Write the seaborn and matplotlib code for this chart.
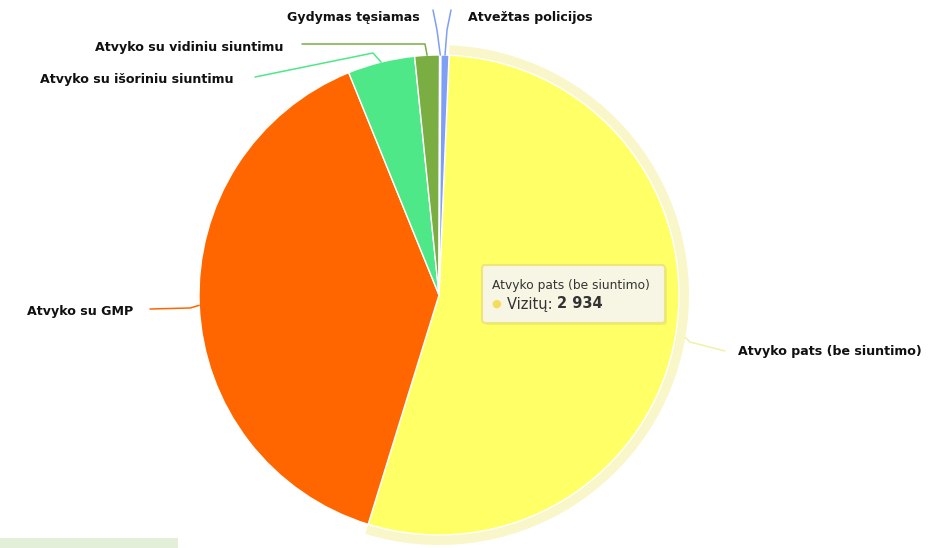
import matplotlib
matplotlib.use("Agg")
import matplotlib.pyplot as plt
import seaborn as sns
import numpy as np
from matplotlib.patches import FancyBboxPatch, Rectangle, Wedge

categories = ["Atvyko pats (be siuntimo)", "Atvyko su GMP", "Atvyko su išoriniu siuntimu",
              "Atvyko su vidiniu siuntimu", "Gydymas tęsiamas", "Atvežtas policijos"]
visits = [2934, 2120, 245, 90, 5, 29]
colors = ["#ffff66", "#ff6600", "#4ee888", "#7aad42", "#6f8fe8", "#7f9ef5"]
connector_colors = ["#f3f0a8", "#ff6600", "#4ee888", "#7aad42", "#7f9ef5", "#7f9ef5"]
tooltip_title = "Atvyko pats (be siuntimo)"
tooltip_label = "Vizitų: "

sns.set_theme(style="white")
plt.rcParams['font.family'] = ['DejaVu Sans']

W, H = 936, 548
fig = plt.figure(figsize=(W / 100, H / 100), dpi=100)
ax = fig.add_axes([0, 0, 1, 1])

def P(x, y):
    return (x, H - y)

cx, cy = P(439, 295)
R = 240
wedges, _ = ax.pie(visits, colors=colors, startangle=87.6, counterclock=False,
                   center=(cx, cy), radius=R,
                   wedgeprops=dict(edgecolor="white", linewidth=1.0))
ax.set_xlim(0, W)
ax.set_ylim(0, H)
ax.set_aspect("equal")
ax.axis("off")

# hover halo on the first slice
w0 = wedges[0]
ax.add_patch(Wedge((cx, cy), R + 10, w0.theta1, w0.theta2, width=10,
                   facecolor="#f6f1a8", alpha=0.6, edgecolor="none", zorder=0))

def edge_pt(i, extra=0):
    w = wedges[i]
    a = np.deg2rad((w.theta1 + w.theta2) / 2)
    return cx + (R + extra) * np.cos(a), cy + (R + extra) * np.sin(a)

lab_kw = dict(fontsize=9.1, fontweight="bold", color="#111111", va="center")

# label layout: (text x, text y, ha, connector path points in pixels before the edge)
layout = {
    0: (738, 351, "left", [(725, 351), (690, 342)]),
    1: (27, 311, "left", [(150, 309), (190, 308)]),
    2: (40, 80, "left", [(255, 77), (373, 53)]),
    3: (95, 48, "left", [(302, 44), (425, 44)]),
    4: (420, 17, "right", [(433, 10), (437, 30)]),
    5: (468, 17, "left", [(451, 10), (447, 30)]),
}
for i, (tx, ty, ha, pts) in layout.items():
    ax.text(*P(tx, ty), categories[i], ha=ha, **lab_kw)
    ex, ey = edge_pt(i, 10 if i == 0 else 0)
    xs = [p[0] for p in pts] + [ex]
    ys = [H - p[1] for p in pts] + [ey]
    ax.plot(xs, ys, color=connector_colors[i], lw=1.1, solid_capstyle="round", zorder=1)

# tooltip
bx, by = P(482, 323)
ax.add_patch(FancyBboxPatch((bx + 2, by - 2), 183, 58, boxstyle="round,pad=0,rounding_size=3",
                            facecolor="#000000", alpha=0.06, edgecolor="none", zorder=4))
ax.add_patch(FancyBboxPatch((bx, by), 183, 58, boxstyle="round,pad=0,rounding_size=3",
                            facecolor="#f7f6e4", edgecolor="#eee67a", lw=1.5, zorder=5))
ax.text(*P(492, 285), tooltip_title, fontsize=8.8, color="#333333", va="center", zorder=6)
ax.text(*P(491, 304), "●", fontsize=8, color="#f5dc5a", va="center", zorder=6)
t1 = ax.text(*P(507, 304), tooltip_label, fontsize=10.5, color="#333333", va="center", zorder=6)
fig.canvas.draw()
bb = t1.get_window_extent(fig.canvas.get_renderer())
val = f"{visits[0]:,}".replace(",", " ")
ax.text(bb.x1, H - 304, val, fontsize=10.5, fontweight="bold", color="#333333", va="center", zorder=6)

# pale green strip at bottom-left
ax.add_patch(Rectangle(P(0, 548), 178, 10, facecolor="#e3efd9", edgecolor="none", zorder=0))

fig.savefig("out.png", dpi=100)
